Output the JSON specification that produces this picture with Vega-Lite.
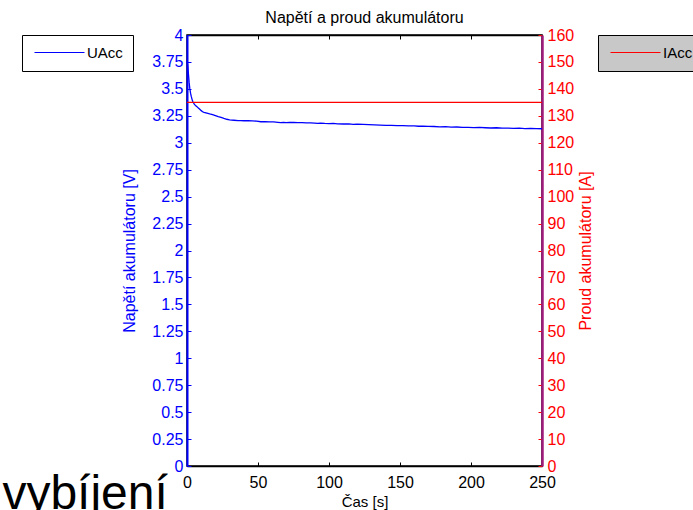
{
  "$schema": "https://vega.github.io/schema/vega-lite/v6.json",
  "autosize": "none",
  "width": 355,
  "height": 431,
  "padding": {"left": 187, "top": 35, "right": 151, "bottom": 44},
  "background": "white",
  "title": {"text": "Napětí a proud akumulátoru", "fontSize": 16, "fontWeight": "normal", "color": "black", "offset": 1, "font": "Liberation Sans"},
  "config": {
    "font": "Liberation Sans",
    "view": {"stroke": "black", "strokeWidth": 1.5}
  },
  "datasets": {
    "u": [
      {"t": 0, "U": 3.76}, {"t": 0.5, "U": 3.72}, {"t": 1, "U": 3.64}, {"t": 1.5, "U": 3.56},
      {"t": 2, "U": 3.5}, {"t": 2.5, "U": 3.46}, {"t": 3, "U": 3.43}, {"t": 3.5, "U": 3.405},
      {"t": 4, "U": 3.385}, {"t": 5, "U": 3.36}, {"t": 6, "U": 3.345}, {"t": 7, "U": 3.335},
      {"t": 8, "U": 3.322}, {"t": 9, "U": 3.31}, {"t": 10, "U": 3.298}, {"t": 11, "U": 3.288},
      {"t": 12, "U": 3.282}, {"t": 14, "U": 3.275}, {"t": 16, "U": 3.268}, {"t": 18, "U": 3.262},
      {"t": 20, "U": 3.252}, {"t": 22, "U": 3.242}, {"t": 24, "U": 3.235}, {"t": 26, "U": 3.226},
      {"t": 28, "U": 3.218}, {"t": 30, "U": 3.213}, {"t": 33, "U": 3.209}, {"t": 36, "U": 3.205},
      {"t": 38, "U": 3.206}, {"t": 40, "U": 3.204}, {"t": 43, "U": 3.205}, {"t": 46, "U": 3.203},
      {"t": 49, "U": 3.2}, {"t": 52, "U": 3.195}, {"t": 55, "U": 3.195}, {"t": 58, "U": 3.194},
      {"t": 61, "U": 3.193}, {"t": 64, "U": 3.19}, {"t": 66, "U": 3.186}, {"t": 68, "U": 3.189},
      {"t": 70, "U": 3.186}, {"t": 72, "U": 3.189}, {"t": 75, "U": 3.188}, {"t": 78, "U": 3.186},
      {"t": 81, "U": 3.186}, {"t": 84, "U": 3.185}, {"t": 87, "U": 3.185}, {"t": 90, "U": 3.183},
      {"t": 92, "U": 3.179}, {"t": 94, "U": 3.182}, {"t": 97, "U": 3.179}, {"t": 100, "U": 3.177},
      {"t": 103, "U": 3.179}, {"t": 106, "U": 3.175}, {"t": 110, "U": 3.174}, {"t": 114, "U": 3.175},
      {"t": 117, "U": 3.171}, {"t": 120, "U": 3.172}, {"t": 124, "U": 3.17}, {"t": 128, "U": 3.168},
      {"t": 132, "U": 3.166}, {"t": 136, "U": 3.164}, {"t": 140, "U": 3.161}, {"t": 144, "U": 3.162},
      {"t": 148, "U": 3.159}, {"t": 152, "U": 3.159}, {"t": 156, "U": 3.156}, {"t": 160, "U": 3.157},
      {"t": 163, "U": 3.153}, {"t": 166, "U": 3.155}, {"t": 170, "U": 3.152}, {"t": 174, "U": 3.151},
      {"t": 178, "U": 3.148}, {"t": 182, "U": 3.149}, {"t": 186, "U": 3.145}, {"t": 190, "U": 3.146},
      {"t": 194, "U": 3.143}, {"t": 198, "U": 3.143}, {"t": 202, "U": 3.141}, {"t": 206, "U": 3.142},
      {"t": 210, "U": 3.139}, {"t": 214, "U": 3.137}, {"t": 218, "U": 3.139}, {"t": 222, "U": 3.135},
      {"t": 226, "U": 3.136}, {"t": 230, "U": 3.134}, {"t": 234, "U": 3.135}, {"t": 238, "U": 3.132},
      {"t": 242, "U": 3.133}, {"t": 246, "U": 3.131}, {"t": 250, "U": 3.13}
    ],
    "i": [{"t": 0, "I": 135}, {"t": 250, "I": 135}]
  },
  "layer": [
    {
      "data": {"name": "u"},
      "mark": {"type": "line", "strokeWidth": 1.3},
      "encoding": {
        "x": {
          "field": "t", "type": "quantitative",
          "scale": {"domain": [0, 250], "nice": false},
          "axis": {
            "orient": "bottom", "values": [0, 50, 100, 150, 200, 250],
            "title": "Čas [s]", "titleFontSize": 15, "titleFontWeight": "normal", "titleColor": "black", "titlePadding": 4,
            "labelFontSize": 16, "labelColor": "black", "labelFlush": false, "labelOverlap": false, "labelPadding": 12,
            "domainColor": "black", "domainWidth": 1.5, "tickColor": "black", "tickSize": -4, "grid": false
          }
        },
        "y": {
          "field": "U", "type": "quantitative",
          "scale": {"domain": [0, 4], "nice": false},
          "axis": {
            "orient": "left",
            "values": [0, 0.25, 0.5, 0.75, 1, 1.25, 1.5, 1.75, 2, 2.25, 2.5, 2.75, 3, 3.25, 3.5, 3.75, 4],
            "format": ".2~f",
            "title": "Napětí akumulátoru [V]", "titleFontSize": 16, "titleFontWeight": "normal", "titleColor": "#0000ff", "titlePadding": 14,
            "labelFontSize": 16, "labelColor": "#0000ff", "labelOverlap": false, "labelPadding": 8, "labelFlush": false,
            "domainColor": "#0000ff", "domainWidth": 2, "tickColor": "#0000ff", "tickSize": -4, "grid": false
          }
        },
        "color": {
          "datum": "UAcc",
          "scale": {"range": ["#0000ff"]},
          "legend": {
            "orient": "none", "legendX": -165, "legendY": 0, "title": null,
            "fillColor": "white", "strokeColor": "black", "padding": 10,
            "symbolType": "M-5,0H5", "symbolSize": 100, "symbolStrokeWidth": 1, "symbolStrokeColor": "#4a4aff", "symbolOffset": 20,
            "labelFontSize": 15, "labelColor": "black", "labelOffset": 20
          }
        }
      }
    },
    {
      "data": {"name": "i"},
      "mark": {"type": "line", "strokeWidth": 1.3},
      "encoding": {
        "x": {
          "field": "t", "type": "quantitative",
          "scale": {"domain": [0, 250], "nice": false},
          "axis": {
            "orient": "top", "values": [0, 50, 100, 150, 200, 250], "labels": false, "title": null,
            "domainColor": "black", "domainWidth": 1.5, "tickColor": "black", "tickSize": -4, "grid": false
          }
        },
        "y": {
          "field": "I", "type": "quantitative",
          "scale": {"domain": [0, 160], "nice": false},
          "axis": {
            "orient": "right",
            "values": [0, 10, 20, 30, 40, 50, 60, 70, 80, 90, 100, 110, 120, 130, 140, 150, 160],
            "title": "Proud akumulátoru [A]", "titleFontSize": 16, "titleFontWeight": "normal", "titleColor": "#ff0000", "titlePadding": 4, "titleAngle": 270, "titleBaseline": "top",
            "labelFontSize": 16, "labelColor": "#ff0000", "labelOverlap": false, "labelPadding": 9, "labelFlush": false,
            "domainColor": "#a01c7c", "domainWidth": 2.5, "tickColor": "#ff0000", "tickSize": -4, "grid": false
          }
        },
        "color": {
          "datum": "IAcc",
          "scale": {"range": ["#ff0000"]},
          "legend": {
            "orient": "none", "legendX": 411, "legendY": 0, "title": null,
            "fillColor": "#c8c8c8", "strokeColor": "black", "padding": 10,
            "symbolType": "M-5,0H5", "symbolSize": 100, "symbolStrokeWidth": 1, "symbolStrokeColor": "#ff4a4a", "symbolOffset": 20,
            "labelFontSize": 15, "labelColor": "black", "labelOffset": 20
          }
        }
      }
    },
    {
      "data": {"values": [{}]},
      "mark": {"type": "text", "fontSize": 48, "color": "black", "align": "left", "baseline": "alphabetic", "font": "Liberation Sans"},
      "encoding": {
        "x": {"datum": -130, "type": "quantitative", "scale": {"domain": [0, 250], "nice": false}, "axis": null},
        "y": {"datum": -0.4, "type": "quantitative", "scale": {"domain": [0, 4], "nice": false}, "axis": null},
        "text": {"value": "vybíjení"}
      }
    }
  ],
  "resolve": {"scale": {"y": "independent", "color": "independent"}, "axis": {"x": "independent"}}
}
